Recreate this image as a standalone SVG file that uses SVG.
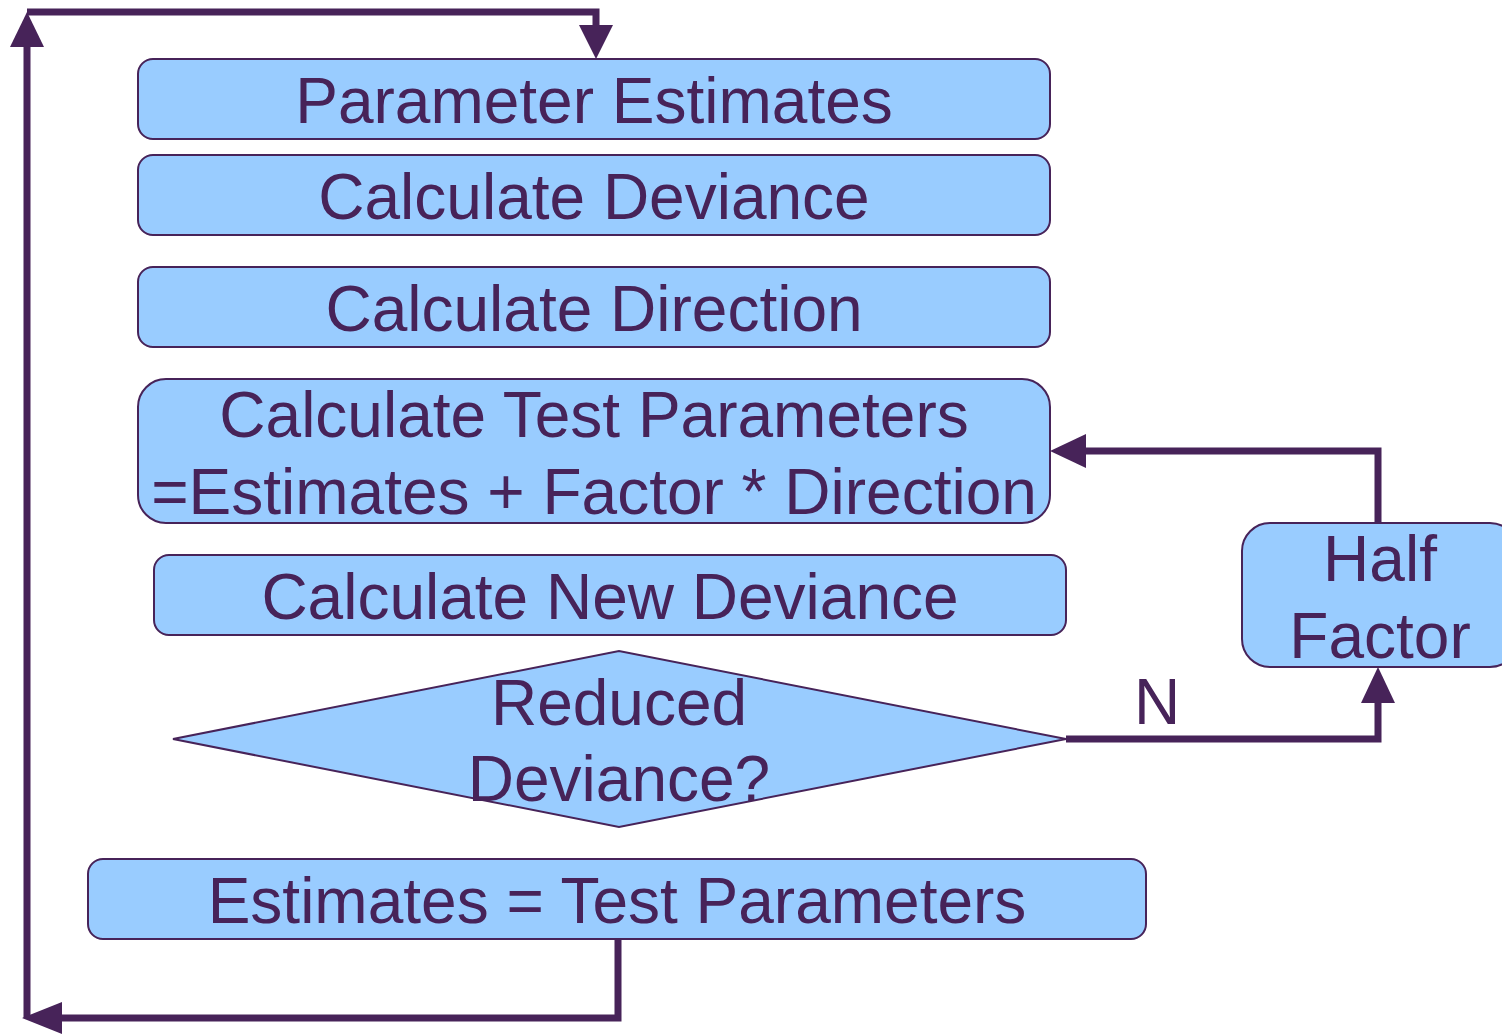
<svg xmlns="http://www.w3.org/2000/svg" width="1502" height="1034" viewBox="0 0 1502 1034">
<style>
.box{fill:#99CCFF;stroke:#472359;stroke-width:2}
.t{font-family:"Liberation Sans",Arial,sans-serif;font-size:64px;fill:#472359;text-anchor:middle}
.c{fill:none;stroke:#472359;stroke-width:7;stroke-linejoin:miter}
.ah{fill:#472359}
</style>
<rect width="1502" height="1034" fill="#ffffff"/>
<g id="connectors">
<polyline class="c" points="618,939 618,1018 40,1018"/>
<polygon class="ah" points="22,1018 62,1002 62,1034"/>
<polyline class="c" points="27,1018 27,45"/>
<polygon class="ah" points="27,12 10,47 44,47"/>
<polyline class="c" points="27,12 596,12 596,30"/>
<polygon class="ah" points="596,59 579,25 613,25"/>
<polyline class="c" points="1066,739 1378,739 1378,700"/>
<polygon class="ah" points="1378,667 1361,703 1395,703"/>
<polyline class="c" points="1378,523 1378,451 1085,451"/>
<polygon class="ah" points="1050,451 1086,434 1086,468"/>
<text class="t" x="1157" y="724">N</text>
</g>
<g id="n1"><rect class="box" x="138" y="59" width="912" height="80" rx="15"/><text class="t" x="594" y="123">Parameter Estimates</text></g>
<g id="n2"><rect class="box" x="138" y="155" width="912" height="80" rx="15"/><text class="t" x="594" y="219">Calculate Deviance</text></g>
<g id="n3"><rect class="box" x="138" y="267" width="912" height="80" rx="15"/><text class="t" x="594" y="331">Calculate Direction</text></g>
<g id="n4"><rect class="box" x="138" y="379" width="912" height="144" rx="28"/><text class="t" x="594" y="437">Calculate Test Parameters</text><text class="t" x="594" y="514">=Estimates + Factor * Direction</text></g>
<g id="n5"><rect class="box" x="154" y="555" width="912" height="80" rx="15"/><text class="t" x="610" y="619">Calculate New Deviance</text></g>
<g id="n6"><polygon class="box" points="173,739 619,651 1066,739 619,827"/><text class="t" x="619" y="725">Reduced</text><text class="t" x="619" y="801">Deviance?</text></g>
<g id="n7"><rect class="box" x="88" y="859" width="1058" height="80" rx="15"/><text class="t" x="617" y="923">Estimates = Test Parameters</text></g>
<g id="n8"><rect class="box" x="1242" y="523" width="276" height="144" rx="28"/><text class="t" x="1380" y="581">Half</text><text class="t" x="1380" y="658">Factor</text></g>
</svg>
